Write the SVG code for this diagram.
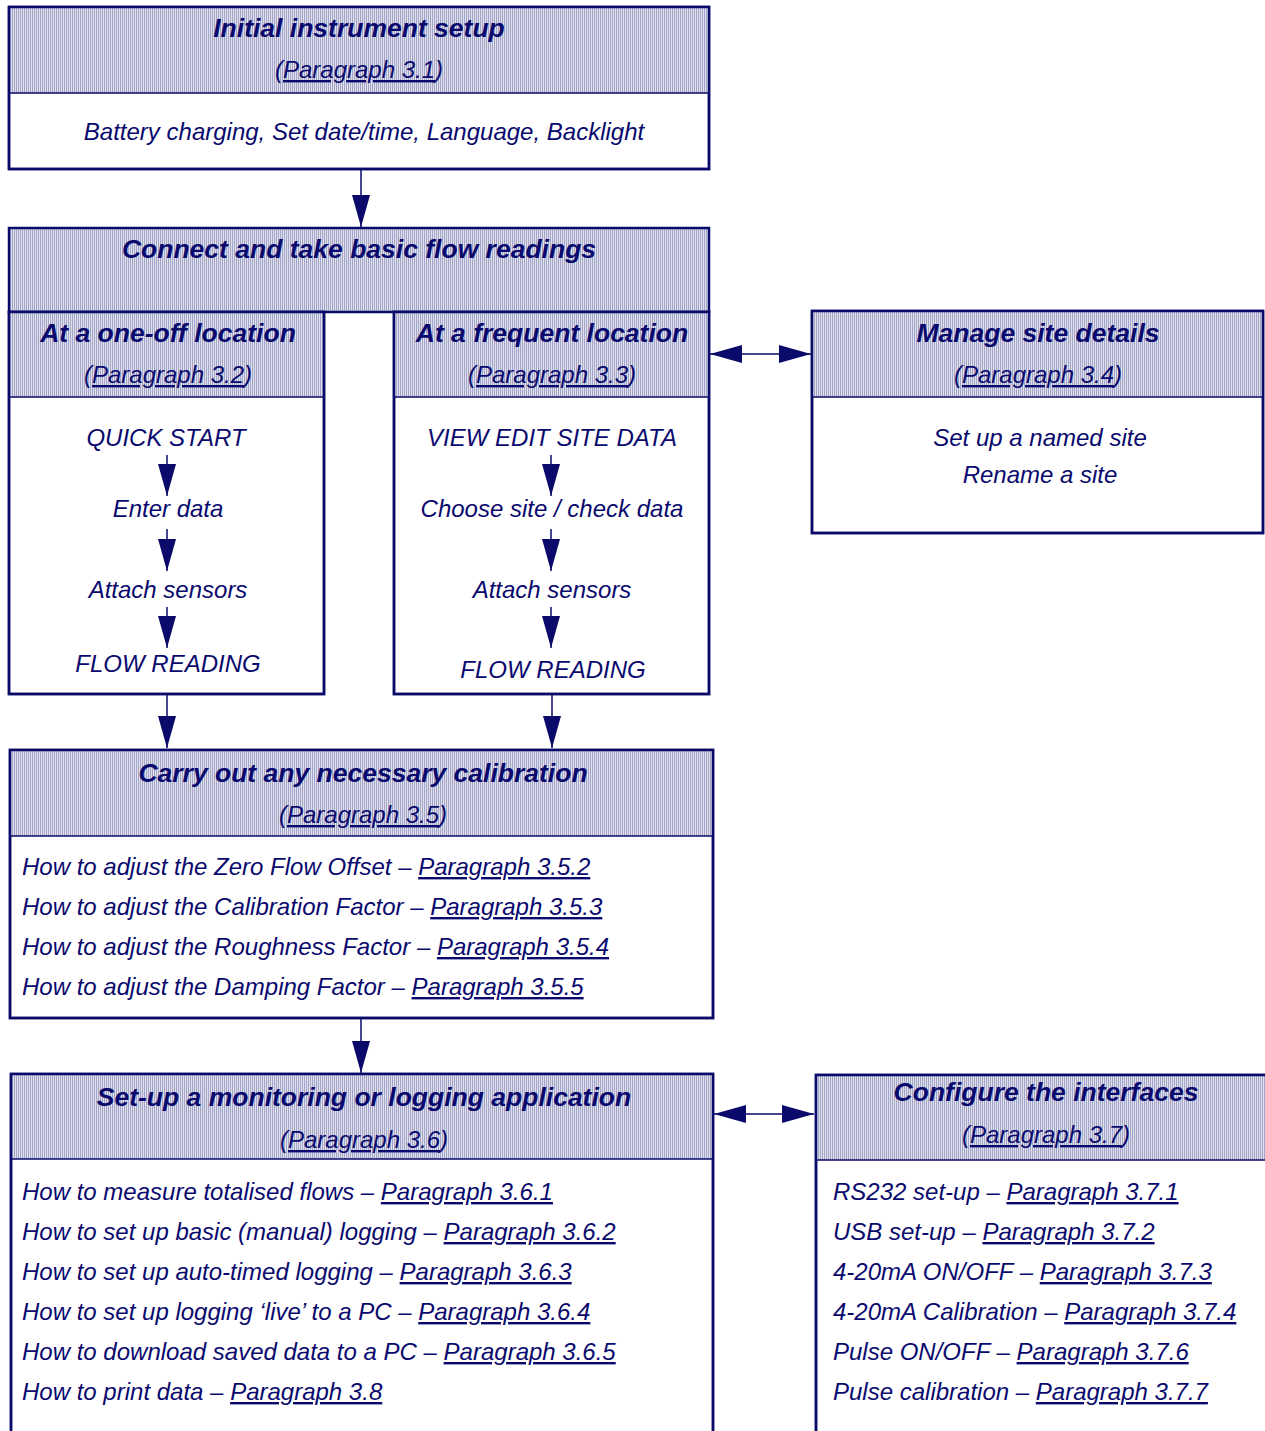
<svg xmlns="http://www.w3.org/2000/svg" width="1265" height="1431" viewBox="0 0 1265 1431">
<style>
.box{fill:#fff;stroke:#0a0a6a;stroke-width:2.5}
.hdr{fill:url(#hatch);stroke:#0a0a6a;stroke-width:1.5}
text{font-family:"Liberation Sans",Arial,sans-serif;fill:#0a0a6e;font-style:italic}
.t{font-weight:bold;font-size:26.5px;text-anchor:middle}
.p{font-size:24px;text-anchor:middle}
.b{font-size:24px}
.c{font-size:24px;text-anchor:middle}
.u{text-decoration:underline}
.con{stroke:#0a0a6a;stroke-width:1.5;fill:none}
</style>
<defs>
<pattern id="hatch" width="2" height="2" patternUnits="userSpaceOnUse">
<rect width="2" height="2" fill="#dfe0ec"/>
<rect width="1" height="2" fill="#a3a5c9"/>
</pattern>
<marker id="ah" viewBox="0 0 32 18" refX="32" refY="9" markerWidth="32" markerHeight="18" markerUnits="userSpaceOnUse" orient="auto-start-reverse">
<path d="M0,0 L32,9 L0,18 Z" fill="#0a0a6a"/>
</marker>
</defs>

<g id="n1">
<rect class="box" x="9" y="7" width="700" height="162"/>
<rect class="hdr" x="9" y="7" width="700" height="86"/>
<rect x="9" y="7" width="700" height="162" fill="none" stroke="#0a0a6a" stroke-width="2.5"/>
<text class="t" x="359" y="37">Initial instrument setup</text>
<text class="p" x="359" y="78">(<tspan class="u">Paragraph 3.1</tspan>)</text>
<text class="c" x="364" y="140">Battery charging, Set date/time, Language, Backlight</text>
</g>

<g id="n2">
<rect class="hdr" x="9" y="228" width="700" height="84"/>
<rect x="9" y="228" width="700" height="84" fill="none" stroke="#0a0a6a" stroke-width="2.5"/>
<text class="t" x="359" y="258">Connect and take basic flow readings</text>
</g>

<g id="n3">
<rect class="box" x="9" y="312" width="315" height="382"/>
<rect class="hdr" x="9" y="312" width="315" height="85"/>
<rect x="9" y="312" width="315" height="382" fill="none" stroke="#0a0a6a" stroke-width="2.5"/>
<text class="t" x="168" y="342">At a one-off location</text>
<text class="p" x="168" y="383">(<tspan class="u">Paragraph 3.2</tspan>)</text>
<text class="c" x="166" y="446">QUICK START</text>
<text class="c" x="168" y="517">Enter data</text>
<text class="c" x="168" y="598">Attach sensors</text>
<text class="c" x="168" y="672">FLOW READING</text>
</g>

<g id="n4">
<rect class="box" x="394" y="312" width="315" height="382"/>
<rect class="hdr" x="394" y="312" width="315" height="85"/>
<rect x="394" y="312" width="315" height="382" fill="none" stroke="#0a0a6a" stroke-width="2.5"/>
<text class="t" x="552" y="342">At a frequent location</text>
<text class="p" x="552" y="383">(<tspan class="u">Paragraph 3.3</tspan>)</text>
<text class="c" x="552" y="446">VIEW EDIT SITE DATA</text>
<text class="c" x="552" y="517">Choose site / check data</text>
<text class="c" x="552" y="598">Attach sensors</text>
<text class="c" x="553" y="678">FLOW READING</text>
</g>

<g id="n5">
<rect class="box" x="812" y="311" width="451" height="222"/>
<rect class="hdr" x="812" y="311" width="451" height="86"/>
<rect x="812" y="311" width="451" height="222" fill="none" stroke="#0a0a6a" stroke-width="2.5"/>
<text class="t" x="1038" y="342">Manage site details</text>
<text class="p" x="1038" y="383">(<tspan class="u">Paragraph 3.4</tspan>)</text>
<text class="c" x="1040" y="446">Set up a named site</text>
<text class="c" x="1040" y="483">Rename a site</text>
</g>

<g id="n6">
<rect class="box" x="10" y="750" width="703" height="268"/>
<rect class="hdr" x="10" y="750" width="703" height="86"/>
<rect x="10" y="750" width="703" height="268" fill="none" stroke="#0a0a6a" stroke-width="2.5"/>
<text class="t" x="363" y="782">Carry out any necessary calibration</text>
<text class="p" x="363" y="823">(<tspan class="u">Paragraph 3.5</tspan>)</text>
<text class="b" x="22" y="875">How to adjust the Zero Flow Offset – <tspan class="u">Paragraph 3.5.2</tspan></text>
<text class="b" x="22" y="915">How to adjust the Calibration Factor – <tspan class="u">Paragraph 3.5.3</tspan></text>
<text class="b" x="22" y="955">How to adjust the Roughness Factor – <tspan class="u">Paragraph 3.5.4</tspan></text>
<text class="b" x="22" y="995">How to adjust the Damping Factor – <tspan class="u">Paragraph 3.5.5</tspan></text>
</g>

<g id="n7">
<rect class="box" x="11" y="1074" width="702" height="370"/>
<rect class="hdr" x="11" y="1074" width="702" height="85"/>
<rect x="11" y="1074" width="702" height="370" fill="none" stroke="#0a0a6a" stroke-width="2.5"/>
<text class="t" x="364" y="1106">Set-up a monitoring or logging application</text>
<text class="p" x="364" y="1148">(<tspan class="u">Paragraph 3.6</tspan>)</text>
<text class="b" x="22" y="1200">How to measure totalised flows – <tspan class="u">Paragraph 3.6.1</tspan></text>
<text class="b" x="22" y="1240">How to set up basic (manual) logging – <tspan class="u">Paragraph 3.6.2</tspan></text>
<text class="b" x="22" y="1280">How to set up auto-timed logging – <tspan class="u">Paragraph 3.6.3</tspan></text>
<text class="b" x="22" y="1320">How to set up logging ‘live’ to a PC – <tspan class="u">Paragraph 3.6.4</tspan></text>
<text class="b" x="22" y="1360">How to download saved data to a PC – <tspan class="u">Paragraph 3.6.5</tspan></text>
<text class="b" x="22" y="1400">How to print data – <tspan class="u">Paragraph 3.8</tspan></text>
</g>

<g id="n8">
<rect class="box" x="816" y="1075" width="460" height="370"/>
<rect class="hdr" x="816" y="1075" width="460" height="85"/>
<rect x="816" y="1075" width="460" height="370" fill="none" stroke="#0a0a6a" stroke-width="2.5"/>
<text class="t" x="1046" y="1101">Configure the interfaces</text>
<text class="p" x="1046" y="1143">(<tspan class="u">Paragraph 3.7</tspan>)</text>
<text class="b" x="833" y="1200">RS232 set-up – <tspan class="u">Paragraph 3.7.1</tspan></text>
<text class="b" x="833" y="1240">USB set-up – <tspan class="u">Paragraph 3.7.2</tspan></text>
<text class="b" x="833" y="1280">4-20mA ON/OFF – <tspan class="u">Paragraph 3.7.3</tspan></text>
<text class="b" x="833" y="1320">4-20mA Calibration – <tspan class="u">Paragraph 3.7.4</tspan></text>
<text class="b" x="833" y="1360">Pulse ON/OFF – <tspan class="u">Paragraph 3.7.6</tspan></text>
<text class="b" x="833" y="1400">Pulse calibration – <tspan class="u">Paragraph 3.7.7</tspan></text>
</g>

<g id="connectors">
<line class="con" x1="361" y1="170" x2="361" y2="227" marker-end="url(#ah)"/>
<line class="con" x1="167" y1="455" x2="167" y2="496" marker-end="url(#ah)"/>
<line class="con" x1="167" y1="529" x2="167" y2="571" marker-end="url(#ah)"/>
<line class="con" x1="167" y1="607" x2="167" y2="648" marker-end="url(#ah)"/>
<line class="con" x1="551" y1="455" x2="551" y2="496" marker-end="url(#ah)"/>
<line class="con" x1="551" y1="529" x2="551" y2="571" marker-end="url(#ah)"/>
<line class="con" x1="551" y1="607" x2="551" y2="648" marker-end="url(#ah)"/>
<line class="con" x1="167" y1="695" x2="167" y2="748" marker-end="url(#ah)"/>
<line class="con" x1="552" y1="695" x2="552" y2="748" marker-end="url(#ah)"/>
<line class="con" x1="710" y1="354" x2="811" y2="354" marker-start="url(#ah)" marker-end="url(#ah)"/>
<line class="con" x1="361" y1="1019" x2="361" y2="1073" marker-end="url(#ah)"/>
<line class="con" x1="714" y1="1114" x2="814" y2="1114" marker-start="url(#ah)" marker-end="url(#ah)"/>
</g>
</svg>
